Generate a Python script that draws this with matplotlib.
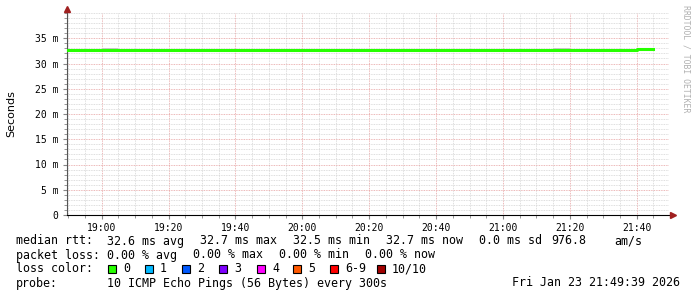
import datetime as dt
import matplotlib
matplotlib.use('Agg')
import matplotlib.pyplot as plt
import matplotlib.dates as mdates
from matplotlib.patches import Rectangle
from matplotlib.ticker import FuncFormatter, MultipleLocator, FixedLocator

# datos (mediana del ping en segundos, cada 300 s)
t0 = dt.datetime(2026, 1, 23, 18, 45)
n_steps = 36
tiempos = [t0 + dt.timedelta(minutes=5 * i) for i in range(n_steps + 1)]
mediana = [0.0326] * 33 + [0.0326, 0.0327, 0.0328]
humo_alto = [0.0327] * 36
humo_bajo = [0.0325] * 36
humo_alto[3] = 0.0331   # 19:00
humo_alto[30] = 0.0331  # 21:15

inicio = dt.datetime(2026, 1, 23, 18, 49, 39)
fin = dt.datetime(2026, 1, 23, 21, 49, 39)

y_ticks = [0, 0.005, 0.010, 0.015, 0.020, 0.025, 0.030, 0.035]

leyenda_etiquetas = ['0', '1', '2', '3', '4', '5', '6-9', '10/10']
leyenda_colores = ['#26ff00', '#00b8ff', '#0059ff', '#7e00ff',
                   '#ff00ff', '#ff5900', '#ff0000', '#a10000']

fila_rtt = ['median rtt:', '32.6 ms avg', '32.7 ms max', '32.5 ms min',
            '32.7 ms now', '0.0 ms sd', '976.8', 'am/s']
fila_loss = ['packet loss:', '0.00 % avg', '0.00 % max', '0.00 % min', '0.00 % now']
fila_probe = ['probe:', '10 ICMP Echo Pings (56 Bytes) every 300s']
fecha = 'Fri Jan 23 21:49:39 2026'

W, H = 697, 297
fig = plt.figure(figsize=(W / 100, H / 100), dpi=100)
ax = fig.add_axes([67 / W, (H - 215) / H, (669 - 67) / W, (215 - 13) / H])

def px(x, y):
    return x / W, 1 - y / H

# humo (gris) y mediana (verde)
ax.fill_between(tiempos, humo_bajo + [humo_bajo[-1]], humo_alto + [humo_alto[-1]],
                step='post', color='#c8c8c8', lw=0, zorder=2)
ax.step(tiempos, mediana + [mediana[-1]], where='post', color='#26ff00',
        lw=2.2, zorder=3)

ax.set_xlim(inicio, fin)
ax.set_ylim(0, 0.040)

ax.xaxis.set_major_locator(mdates.MinuteLocator(byminute=[0, 20, 40]))
ax.xaxis.set_minor_locator(mdates.MinuteLocator(byminute=range(0, 60, 5)))
ax.xaxis.set_major_formatter(mdates.DateFormatter('%H:%M'))
ax.yaxis.set_major_locator(FixedLocator(y_ticks))
ax.yaxis.set_minor_locator(MultipleLocator(0.001))
ax.yaxis.set_major_formatter(FuncFormatter(
    lambda v, p: '0' if abs(v) < 1e-9 else f'{v * 1000:.0f} m'))

ax.grid(which='minor', color='#d4d4d4', linestyle=(0, (1, 1)), lw=0.6, zorder=0)
ax.grid(which='major', color='#e6a0a0', linestyle=(0, (1, 1)), lw=0.6, zorder=1)
ax.set_axisbelow(True)

for lab in ax.get_xticklabels() + ax.get_yticklabels():
    lab.set_family('DejaVu Sans Mono')
ax.tick_params(which='both', labelsize=7, color='#888888', direction='out')
ax.tick_params(axis='x', which='major', length=3, pad=3)
ax.tick_params(axis='x', which='minor', length=2)
ax.tick_params(axis='y', which='major', length=3, pad=3)
ax.tick_params(axis='y', which='minor', length=2)

for s in ['top', 'right']:
    ax.spines[s].set_visible(False)
ax.spines['left'].set_color('#555555')
ax.spines['bottom'].set_color('#000000')

# flechas de los ejes
ax.plot([0], [1.02], marker='^', color='#a02020', ms=4, transform=ax.transAxes,
        clip_on=False, zorder=5)
ax.plot([1.006], [0], marker='>', color='#a02020', ms=4, transform=ax.transAxes,
        clip_on=False, zorder=5)

fig.text(*px(11, 114), 'Seconds', rotation=90, ha='center', va='center',
         fontsize=8, family='DejaVu Sans')
fig.text(*px(686, 5), 'RRDTOOL / TOBI OETIKER', rotation=270, ha='center', va='top',
         fontsize=5.9, family='DejaVu Sans Mono', color='#b0b0b0')

mono = dict(fontsize=8.4, family='DejaVu Sans Mono', va='center', ha='left')
filas = [(241, fila_rtt, [16, 107, 200, 293, 386, 479, 551, 614]),
         (255, fila_loss, [16, 107, 193, 279, 365]),
         (283, fila_probe, [16, 107])]
for y, textos, xs in filas:
    for x, t in zip(xs, textos):
        fig.text(*px(x, y), t, **mono)
fig.text(*px(16, 269), 'loss color:', **mono)
fig.text(*px(680, 283), fecha, fontsize=8.4, family='DejaVu Sans Mono',
         va='center', ha='right')

cuadros_x = [108, 145, 182, 219, 257, 293, 330, 377]
for x, etiqueta, color in zip(cuadros_x, leyenda_etiquetas, leyenda_colores):
    fig.patches.append(Rectangle(px(x, 273), 8 / W, 8 / H, transform=fig.transFigure,
                                 facecolor=color, edgecolor='black', lw=0.8))
    fig.text(*px(x + 15, 269), etiqueta, **mono)

fig.savefig('out.png', dpi=100, facecolor='white')
